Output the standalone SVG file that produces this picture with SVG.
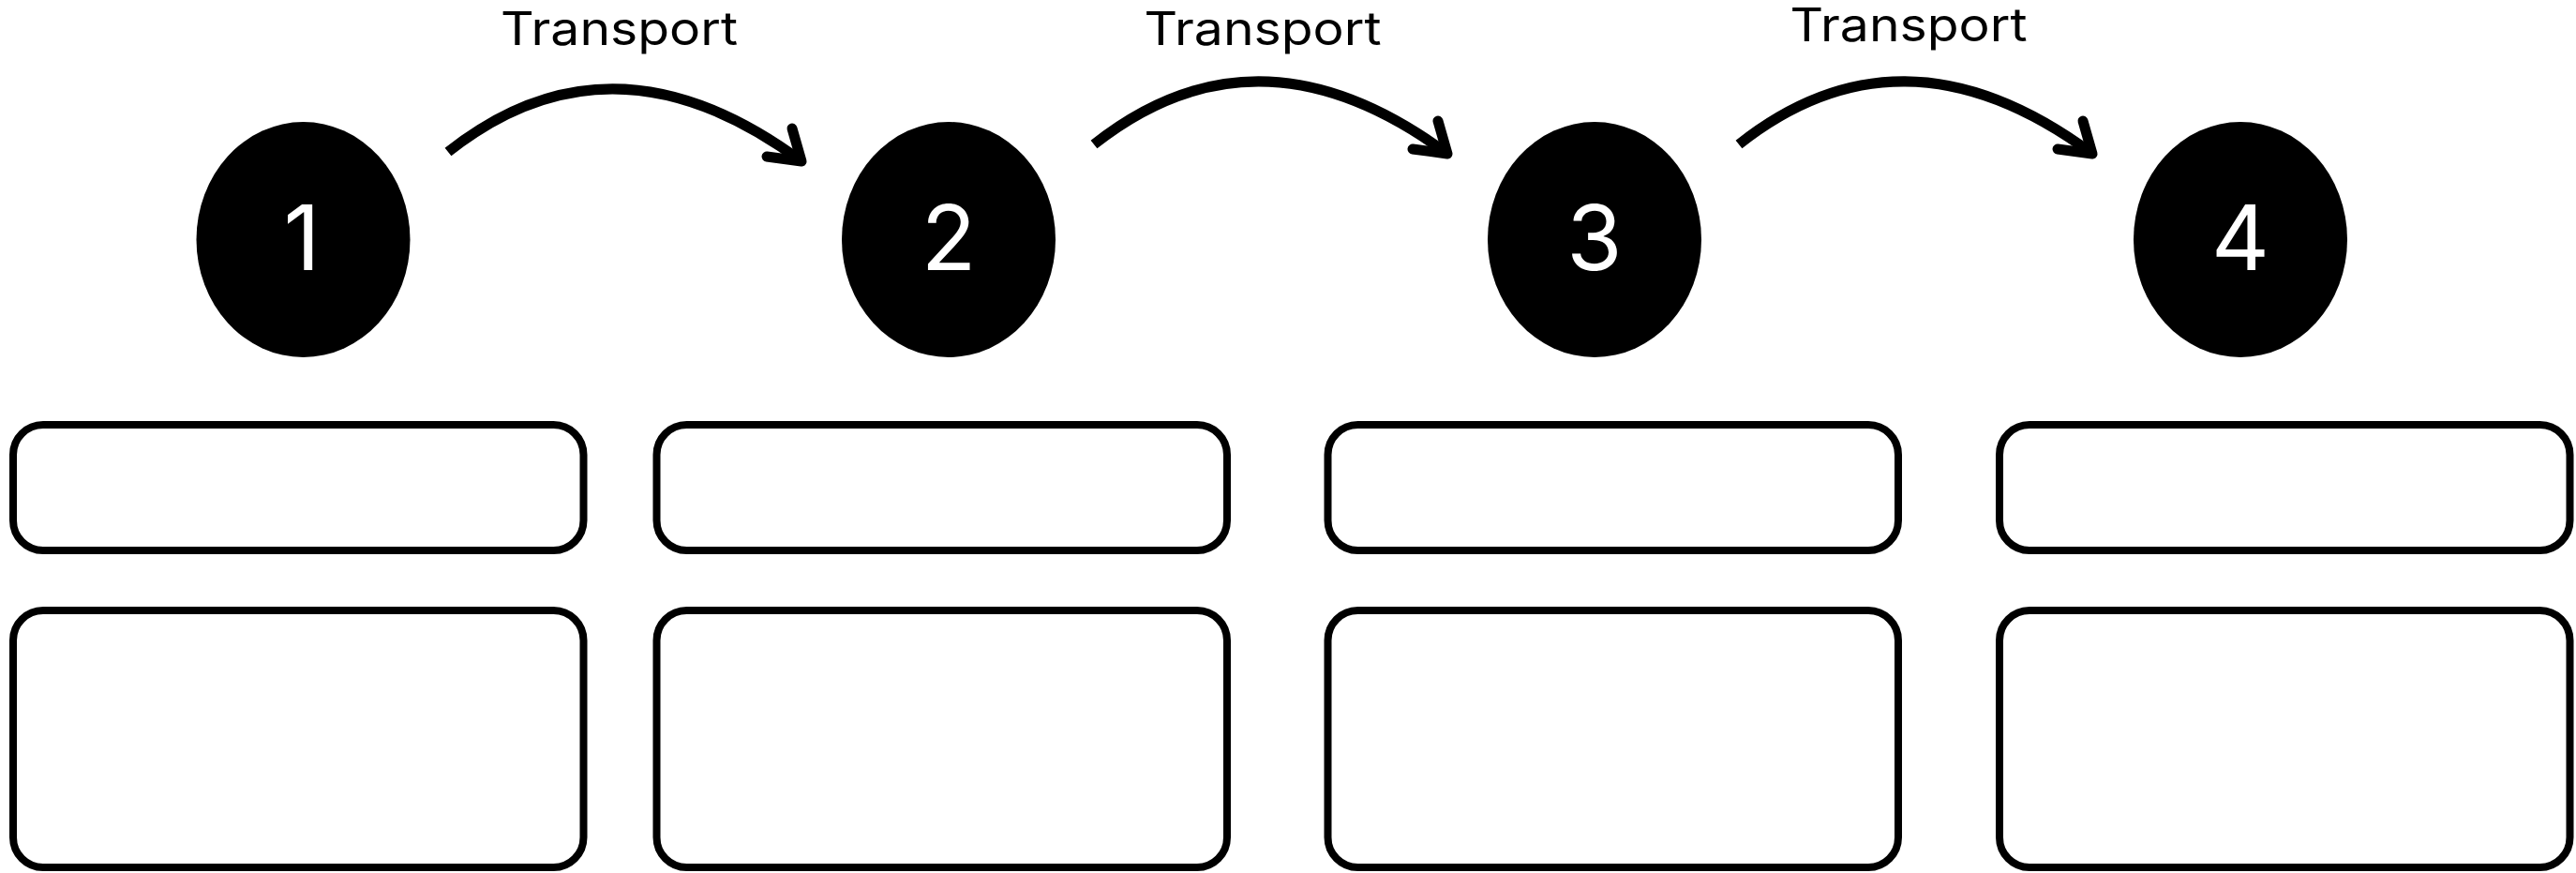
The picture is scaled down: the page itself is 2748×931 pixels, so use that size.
<svg xmlns="http://www.w3.org/2000/svg" width="2748" height="931" viewBox="0 0 2748 931">
<style>
.bg{fill:#ffffff}
.node{fill:#000000}
.num{fill:#ffffff;font-family:Inter,"Noto Sans","Liberation Sans",sans-serif;font-size:96px;font-weight:400;text-anchor:middle}
.lbl{fill:#000000;font-family:Inter,"Noto Sans","Liberation Sans",sans-serif;font-size:49.5px;font-weight:400;text-anchor:middle}
.box{fill:#ffffff;stroke:#000000;stroke-width:8}
.curve{fill:none;stroke:#000000;stroke-width:11;stroke-linecap:butt}
.head{fill:none;stroke:#000000;stroke-width:11;stroke-linecap:round;stroke-linejoin:round}
</style>
<defs>
<g id="arrow">
<path class="curve" d="M478,162 Q653.5,23 855,172"/>
<path class="head" d="M845,137 L855,172 L818,167"/>
</g>
</defs>
<rect class="bg" x="0" y="0" width="2748" height="931"/>
<g id="connectors">
<use href="#arrow"/>
<use href="#arrow" transform="translate(689,-8)"/>
<use href="#arrow" transform="translate(1377,-8)"/>
<text class="lbl" x="660.5" y="48" textLength="253" lengthAdjust="spacingAndGlyphs">Transport</text>
<text class="lbl" x="1347" y="48" textLength="253" lengthAdjust="spacingAndGlyphs">Transport</text>
<text class="lbl" x="2036" y="44" textLength="253" lengthAdjust="spacingAndGlyphs">Transport</text>
</g>
<g id="node1">
<ellipse class="node" cx="323.5" cy="255.5" rx="114" ry="125.5"/>
<text class="num" x="322" y="288">1</text>
</g>
<g id="node2">
<ellipse class="node" cx="1012" cy="255.5" rx="114" ry="125.5"/>
<text class="num" x="1012" y="288">2</text>
</g>
<g id="node3">
<ellipse class="node" cx="1701" cy="255.5" rx="114" ry="125.5"/>
<text class="num" x="1701" y="288">3</text>
</g>
<g id="node4">
<ellipse class="node" cx="2390" cy="255.5" rx="114" ry="125.5"/>
<text class="num" x="2390" y="288">4</text>
</g>
<g id="box1a"><rect class="box" x="14" y="453" width="608.5" height="134" rx="32" ry="32"/></g>
<g id="box2a"><rect class="box" x="700.5" y="453" width="608.5" height="134" rx="32" ry="32"/></g>
<g id="box3a"><rect class="box" x="1416.5" y="453" width="608.5" height="134" rx="32" ry="32"/></g>
<g id="box4a"><rect class="box" x="2133" y="453" width="608.5" height="134" rx="32" ry="32"/></g>
<g id="box1b"><rect class="box" x="14" y="651" width="608.5" height="274" rx="32" ry="32"/></g>
<g id="box2b"><rect class="box" x="700.5" y="651" width="608.5" height="274" rx="32" ry="32"/></g>
<g id="box3b"><rect class="box" x="1416.5" y="651" width="608.5" height="274" rx="32" ry="32"/></g>
<g id="box4b"><rect class="box" x="2133" y="651" width="608.5" height="274" rx="32" ry="32"/></g>
</svg>
